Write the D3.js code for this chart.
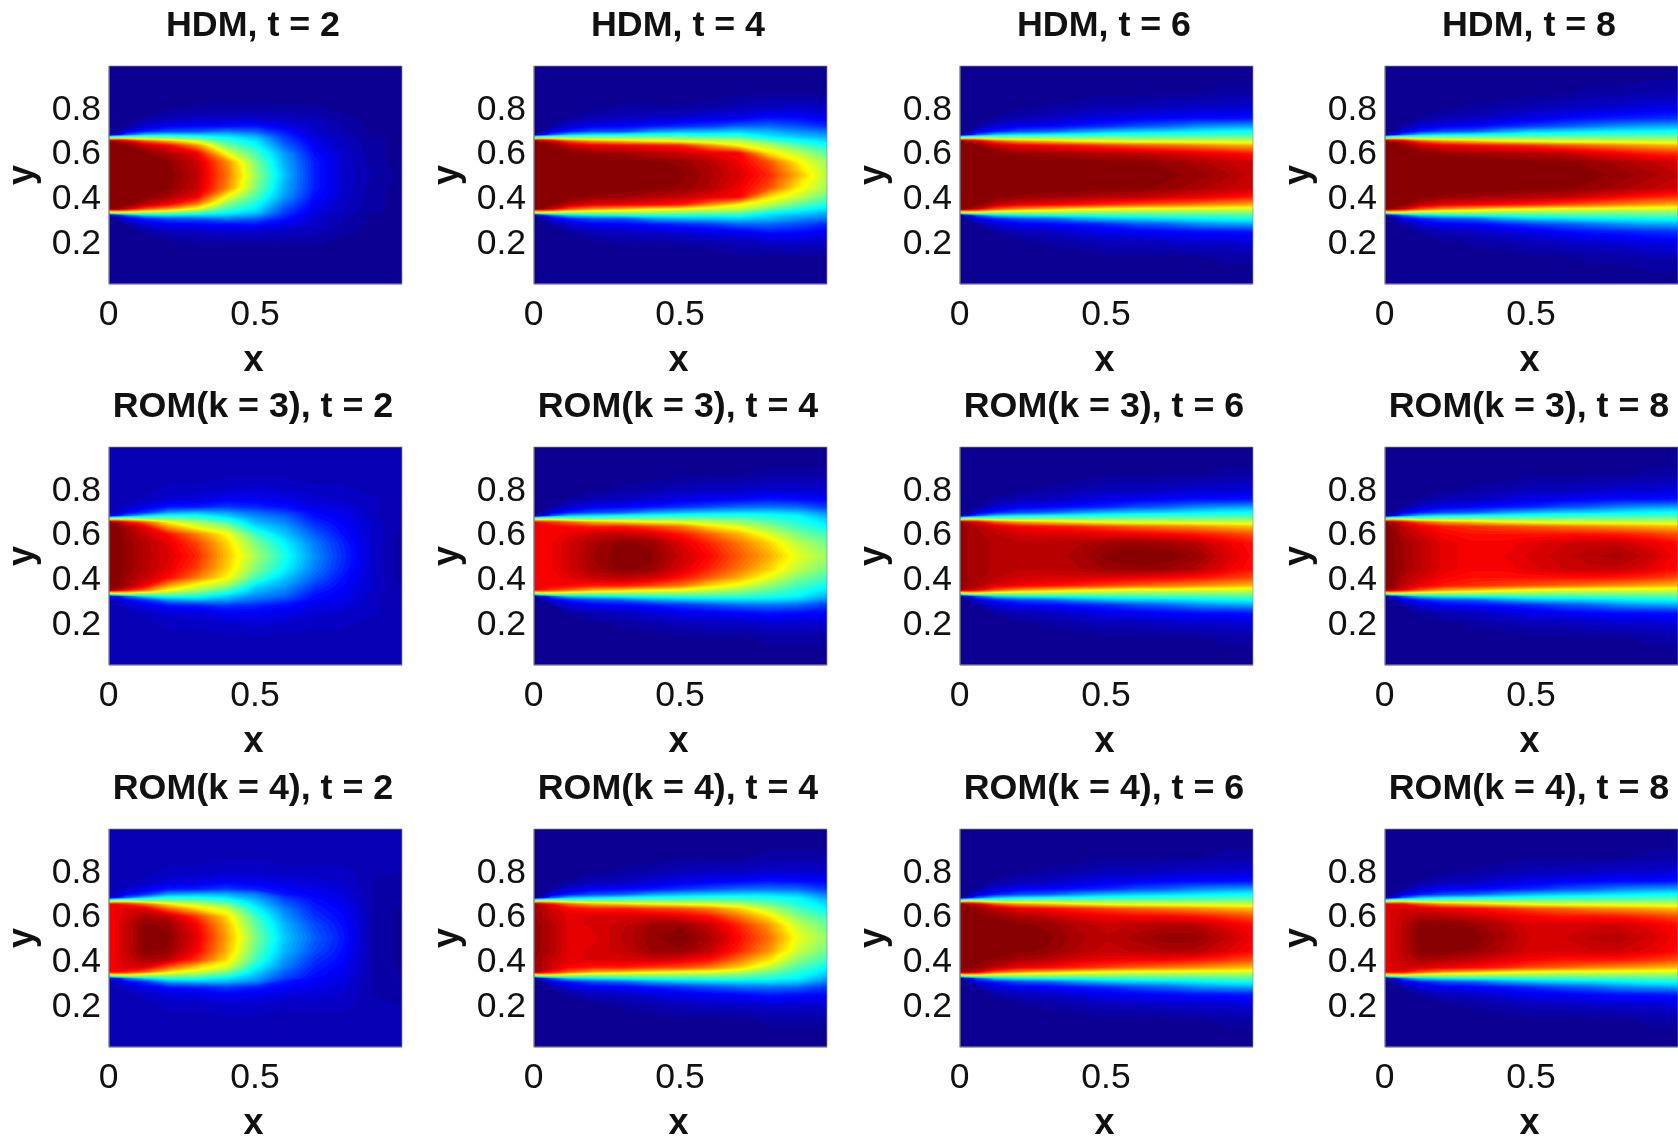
<!DOCTYPE html>
<html>
<head>
<meta charset="utf-8">
<script src="https://cdn.jsdelivr.net/npm/d3@7"></script>
<style>
  html, body { margin: 0; padding: 0; background: #fff; overflow: hidden; }
  svg { display: block; filter: blur(0.6px); font-family: "Liberation Sans", Arial, sans-serif; }
</style>
</head>
<body>
<div id="chart"></div>
<script>
// sample positions (top half only, the field is symmetric about y = 0.5)
const xSamples = [0, 0.02, 0.06, 0.12, 0.2, 0.3, 0.4, 0.5, 0.6, 0.7, 0.8, 0.9, 1];
const ySamples = [0.5, 0.56, 0.6, 0.635, 0.655, 0.672, 0.685, 0.7, 0.725, 0.76, 0.81, 0.88, 1];

const times = [2, 4, 6, 8];
const models = ['HDM', 'ROM(k = 3)', 'ROM(k = 4)'];
const xTicks = [0, 0.5];
const yTicks = [0.2, 0.4, 0.6, 0.8];

// one line per x sample, values per y sample, in percent of the colour range
const hdmT2 = [
  [100,100,100,100,100,50,1,0,0,0,0,0,0],
  [100,100,100,100,98,55,6,1,0,0,0,0,0],
  [100,100,100,99,92,56,20,9,2,0,0,0,0],
  [100,100,99,94,80,52,32,14,7,2,0,0,0],
  [100,99,96,88,72,50,35,19,10,4,1,0,0],
  [94,93,89,74,60,45,33,20,11,5,2,0,0],
  [77,75,62,50,44,38,32,24,12,6,2,0,0],
  [53,50,45,39,36,32,27,21,13,6,2,0,0],
  [31,29,27,22,19,17,15,13,9,5,2,0,0],
  [14,14,12,10,9,8,7,6,6,4,2,0,0],
  [6,6,6,5,5,4,4,3,3,2,1,0,0],
  [3,2,2,2,2,2,1,1,1,1,0,0,0],
  [1,1,1,1,1,1,1,0,0,0,0,0,0]
];
const hdmT4 = [
  [100,100,100,100,100,50,1,0,0,0,0,0,0],
  [100,100,100,100,98,55,6,1,0,0,0,0,0],
  [100,100,100,99,92,56,20,9,2,0,0,0,0],
  [100,100,99,94,80,52,32,14,7,2,0,0,0],
  [100,100,98,90,73,52,36,19,10,4,1,0,0],
  [100,100,97,89,69,52,38,19,11,5,2,0,0],
  [100,99,95,87,65,52,40,27,13,6,2,0,0],
  [99,98,93,85,62,50,41,30,15,7,2,0,0],
  [96,95,90,74,58,49,39,31,17,9,3,0,0],
  [91,89,88,63,57,47,40,33,21,10,4,1,0],
  [84,80,66,56,48,38,34,30,22,13,5,1,0],
  [70,64,57,47,40,34,30,26,19,12,6,1,0],
  [55,53,47,40,35,30,27,23,15,10,5,1,0]
];
const hdmT6 = [
  [100,100,100,100,100,50,1,0,0,0,0,0,0],
  [100,100,100,100,98,55,6,1,0,0,0,0,0],
  [100,100,100,99,92,56,20,9,2,0,0,0,0],
  [100,100,99,94,80,52,32,14,7,2,0,0,0],
  [100,100,98,90,73,52,36,19,10,4,1,0,0],
  [100,100,97,88,69,52,38,21,11,5,2,0,0],
  [100,100,96,86,65,51,39,27,13,7,3,0,0],
  [100,99,95,83,62,51,41,31,15,9,4,1,0],
  [100,99,94,80,60,50,42,33,19,10,4,1,0],
  [99,98,92,78,60,50,43,34,21,11,5,1,0],
  [98,96,90,76,59,50,43,36,25,12,6,1,0],
  [96,94,88,73,59,50,44,38,27,12,6,2,0],
  [93,92,85,71,58,50,45,39,28,13,7,2,0]
];
const hdmT8 = [
  [100,100,100,100,100,50,1,0,0,0,0,0,0],
  [100,100,100,100,98,55,6,1,0,0,0,0,0],
  [100,100,100,99,92,56,20,9,2,0,0,0,0],
  [100,100,99,94,80,52,32,14,7,2,0,0,0],
  [100,100,98,90,73,52,36,19,10,4,1,0,0],
  [100,100,97,88,69,52,38,21,11,5,2,0,0],
  [100,100,96,86,65,51,40,28,14,7,3,0,0],
  [100,99,95,84,62,51,42,33,17,9,4,1,0],
  [100,99,94,81,60,51,43,34,20,11,5,1,0],
  [99,98,91,78,60,50,44,36,23,13,6,2,0],
  [98,96,88,75,59,50,44,37,26,14,7,2,0],
  [96,94,85,72,59,50,45,38,28,15,8,3,0],
  [94,92,83,70,58,50,45,39,29,16,9,3,0]
];
const romK3T2 = [
  [100,100,100,100,100,50,6,4,4,4,4,4,4],
  [100,100,100,100,97,55,10,5,4,4,4,4,4],
  [98,98,97,96,88,56,22,11,6,4,4,4,4],
  [95,95,93,89,79,52,33,16,9,5,4,4,4],
  [91,90,87,72,64,50,40,27,13,7,5,4,4],
  [84,81,75,60,54,46,39,31,14,8,5,4,4],
  [69,67,63,53,45,38,33,28,17,10,6,4,4],
  [54,50,44,35,31,28,25,22,15,10,7,4,4],
  [40,37,32,28,25,23,21,18,12,9,6,4,4],
  [26,24,21,17,15,13,12,11,9,7,5,4,4],
  [15,14,12,11,10,10,9,9,8,6,5,4,4],
  [6,6,6,6,6,5,5,5,5,5,4,4,4],
  [2,2,2,3,3,3,3,3,3,4,4,4,4]
];
const romK3T4 = [
  [88,88,88,88,88,48,1,0,0,0,0,0,0],
  [88,88,88,88,87,53,6,1,0,0,0,0,0],
  [89,89,88,88,83,55,20,9,2,0,0,0,0],
  [92,92,90,87,78,52,32,14,7,2,0,0,0],
  [97,96,93,85,71,50,35,19,10,4,1,0,0],
  [100,99,94,85,68,50,38,21,11,5,2,0,0],
  [99,98,92,81,64,50,40,28,13,7,3,0,0],
  [93,91,86,76,62,50,41,31,16,9,4,1,0],
  [87,84,78,66,57,49,42,33,19,10,5,1,0],
  [79,76,70,60,53,47,42,34,22,11,5,1,0],
  [71,67,60,52,47,43,40,34,23,13,6,2,0],
  [60,56,50,44,41,39,37,32,22,12,6,2,0],
  [53,49,44,38,35,32,29,25,17,11,6,2,0]
];
const romK3T6 = [
  [97,97,97,97,97,49,1,0,0,0,0,0,0],
  [97,97,97,97,95,55,6,1,0,0,0,0,0],
  [96,96,96,95,90,56,20,9,2,0,0,0,0],
  [95,95,94,91,80,52,32,14,7,2,0,0,0],
  [94,94,92,88,73,52,36,19,10,4,1,0,0],
  [94,94,91,86,69,52,38,21,11,5,2,0,0],
  [96,95,91,84,65,51,39,27,13,7,3,0,0],
  [99,97,90,81,62,51,41,31,15,9,4,1,0],
  [100,98,89,78,60,50,42,33,19,10,4,1,0],
  [100,97,88,76,60,50,43,34,21,11,5,1,0],
  [98,95,86,74,59,50,43,36,25,12,6,1,0],
  [92,90,83,71,59,50,44,38,27,12,6,2,0],
  [87,86,80,69,58,50,45,39,28,13,7,2,0]
];
const romK3T8 = [
  [99,99,99,99,99,49,1,0,0,0,0,0,0],
  [99,99,99,99,97,55,6,1,0,0,0,0,0],
  [97,97,95,94,90,56,20,9,2,0,0,0,0],
  [94,94,92,89,80,52,32,14,7,2,0,0,0],
  [90,90,88,85,73,52,36,19,10,4,1,0,0],
  [88,88,86,83,69,52,38,21,11,5,2,0,0],
  [89,88,86,81,65,51,39,27,13,7,3,0,0],
  [91,90,86,79,62,51,41,31,15,9,4,1,0],
  [93,92,86,77,60,50,42,33,19,10,4,1,0],
  [95,93,86,75,60,50,43,34,21,11,5,1,0],
  [96,93,85,73,59,50,43,36,25,12,6,1,0],
  [93,90,83,71,59,50,44,38,27,12,6,2,0],
  [88,87,80,69,58,50,45,39,28,13,7,2,0]
];
const romK4T2 = [
  [88,88,88,88,88,47,6,4,4,4,4,4,4],
  [89,89,89,89,88,54,10,5,4,4,4,4,4],
  [93,93,92,91,85,56,22,11,6,4,4,4,4],
  [99,99,96,90,78,52,33,16,9,5,4,4,4],
  [99,98,94,78,66,50,41,28,13,7,5,4,4],
  [90,88,82,66,58,48,40,31,14,8,5,4,4],
  [72,70,66,58,50,42,36,30,17,10,6,4,4],
  [50,47,44,38,34,31,28,25,14,9,6,4,4],
  [32,30,27,24,21,19,17,13,11,8,5,4,4],
  [21,19,16,14,13,12,11,10,9,7,5,4,4],
  [13,12,11,10,9,9,8,8,7,6,5,4,4],
  [3,3,3,3,3,3,3,3,3,3,4,4,4],
  [1,1,1,1,2,2,2,2,2,3,3,4,4]
];
const romK4T4 = [
  [97,97,97,97,97,49,1,0,0,0,0,0,0],
  [97,97,96,96,94,55,6,1,0,0,0,0,0],
  [95,95,93,92,87,56,20,9,2,0,0,0,0],
  [90,90,90,87,78,52,32,14,7,2,0,0,0],
  [90,91,91,85,71,50,35,19,10,4,1,0,0],
  [94,93,91,85,68,50,38,21,11,5,2,0,0],
  [98,97,92,82,64,50,40,28,13,7,3,0,0],
  [100,98,90,80,62,50,41,31,16,9,4,1,0],
  [96,93,86,75,60,50,42,33,19,10,5,1,0],
  [87,84,76,67,56,48,42,34,22,11,5,1,0],
  [77,73,65,56,49,44,40,34,23,13,6,2,0],
  [61,57,51,45,41,39,37,32,22,12,6,2,0],
  [52,48,43,37,34,31,28,24,17,11,6,2,0]
];
const romK4T6 = [
  [98,98,98,98,98,49,1,0,0,0,0,0,0],
  [99,99,99,99,97,55,6,1,0,0,0,0,0],
  [100,100,99,98,92,56,20,9,2,0,0,0,0],
  [100,100,98,94,80,52,32,14,7,2,0,0,0],
  [100,99,96,89,73,52,36,19,10,4,1,0,0],
  [99,98,94,87,69,52,38,21,11,5,2,0,0],
  [96,95,91,84,65,51,39,27,13,7,3,0,0],
  [94,93,89,81,62,51,41,31,15,9,4,1,0],
  [96,94,88,78,60,50,42,33,19,10,4,1,0],
  [98,95,88,76,60,50,43,34,21,11,5,1,0],
  [98,95,86,74,59,50,43,36,25,12,6,1,0],
  [94,91,83,71,59,50,44,38,27,12,6,2,0],
  [89,87,80,69,58,50,45,39,28,13,7,2,0]
];
const romK4T8 = [
  [90,90,90,90,90,47,1,0,0,0,0,0,0],
  [91,91,91,91,89,54,6,1,0,0,0,0,0],
  [94,94,93,92,88,56,20,9,2,0,0,0,0],
  [100,99,96,91,80,52,32,14,7,2,0,0,0],
  [100,99,95,89,73,52,36,19,10,4,1,0,0],
  [100,98,93,87,69,52,38,21,11,5,2,0,0],
  [96,95,90,84,65,51,39,27,13,7,3,0,0],
  [92,91,88,80,62,51,41,31,15,9,4,1,0],
  [92,91,86,78,60,50,42,33,19,10,4,1,0],
  [94,92,86,75,60,50,43,34,21,11,5,1,0],
  [95,92,85,73,59,50,43,36,25,12,6,1,0],
  [92,90,83,71,59,50,44,38,27,12,6,2,0],
  [88,87,80,69,58,50,45,39,28,13,7,2,0]
];
const fields = [
  [hdmT2, hdmT4, hdmT6, hdmT8],
  [romK3T2, romK3T4, romK3T6, romK3T8],
  [romK4T2, romK4T4, romK4T6, romK4T8]
];

const width = 1678;
const height = 1138;
const panelW = 293;
const panelH = 218;
const colX = [109, 534, 960, 1385];
const rowY = [66, 447, 829];

const jet = d3.scaleLinear()
  .domain([0, 11, 37.5, 50, 62.5, 87.5, 100])
  .range(['#0c008a', '#0000ff', '#00ffff', '#80ff80', '#ffff00', '#ff0000', '#800000'])
  .clamp(true);

const levels = d3.range(0, 100, 100 / 64);

// full column of y positions, bottom half mirrored from the top half
const yFull = ySamples.slice(1).reverse().map(y => 1 - y).concat(ySamples);

// grid index to data position; d3.contours puts samples on i + 0.5
const indexScale = samples => d3.scaleLinear()
  .domain([0, ...samples.map((d, i) => i + 0.5), samples.length])
  .range([samples[0], ...samples, samples[samples.length - 1]]);
const xIndex = indexScale(xSamples);
const yIndex = indexScale(yFull);

const svg = d3.select('#chart').append('svg')
  .attr('width', width)
  .attr('height', height);

fields.forEach((row, r) => {
  row.forEach((field, c) => {
    const g = svg.append('g').attr('transform', `translate(${colX[c]},${rowY[r]})`);

    const scaleX = d3.scaleLinear().domain([0, 1]).range([0, panelW]);
    const scaleY = d3.scaleLinear().domain([0, 1]).range([panelH, 0]);
    // the tick labels sit a little further apart than the frame gives
    const tickY = d3.scaleLinear().domain([0, 1]).range([panelH + 3, -3]);

    // flatten to the contour grid, mirroring each column about y = 0.5
    const values = [];
    yFull.forEach((y, j) => {
      const k = Math.abs(j - (ySamples.length - 1));
      field.forEach(col => values.push(col[k]));
    });

    const contours = d3.contours()
      .size([xSamples.length, yFull.length])
      .thresholds(levels)
      .smooth(true)(values);

    const path = d3.geoPath(d3.geoTransform({
      point(x, y) {
        this.stream.point(scaleX(xIndex(x)), scaleY(yIndex(y)));
      }
    }));

    g.append('rect')
      .attr('width', panelW)
      .attr('height', panelH)
      .attr('fill', jet(0));

    g.selectAll('path.level')
      .data(contours)
      .enter()
      .append('path')
      .attr('class', 'level')
      .attr('d', path)
      .attr('fill', d => jet(d.value + 100 / 128));

    const xAxis = d3.axisBottom(scaleX)
      .tickValues(xTicks)
      .tickSize(0)
      .tickPadding(16)
      .tickFormat(d3.format('~g'));
    const yAxis = d3.axisLeft(tickY)
      .tickValues(yTicks)
      .tickSize(0)
      .tickPadding(8)
      .tickFormat(d3.format('.1f'));

    const gx = g.append('g').attr('transform', `translate(0,${panelH})`).call(xAxis);
    const gy = g.append('g').call(yAxis);
    [gx, gy].forEach(a => {
      a.selectAll('text')
        .attr('font-size', 35.5)
        .attr('font-family', '"Liberation Sans", Arial, sans-serif')
        .attr('fill', '#111');
      a.select('.domain').remove();
    });
    gx.selectAll('text').attr('dx', -1);

    g.append('rect')
      .attr('width', panelW)
      .attr('height', panelH)
      .attr('fill', 'none')
      .attr('stroke', '#8a8ab0')
      .attr('stroke-width', 0.7);
    g.append('path')
      .attr('d', `M0,0V${panelH}H${panelW}`)
      .attr('fill', 'none')
      .attr('stroke', '#777')
      .attr('stroke-width', 1);

    g.append('text')
      .attr('x', panelW / 2 - 2.5)
      .attr('y', -30.5)
      .attr('text-anchor', 'middle')
      .attr('font-size', 35.8)
      .attr('font-weight', 'bold')
      .attr('fill', '#111')
      .text(`${models[r]}, t = ${times[c]}`);

    g.append('text')
      .attr('x', panelW / 2 - 2)
      .attr('y', panelH + 87)
      .attr('text-anchor', 'middle')
      .attr('font-size', 36)
      .attr('font-weight', 'bold')
      .attr('fill', '#111')
      .text('x');

    g.append('text')
      .attr('transform', `translate(-76,${panelH / 2}) rotate(-90)`)
      .attr('text-anchor', 'middle')
      .attr('font-size', 36)
      .attr('font-weight', 'bold')
      .attr('fill', '#111')
      .text('y');
  });
});
</script>
</body>
</html>
